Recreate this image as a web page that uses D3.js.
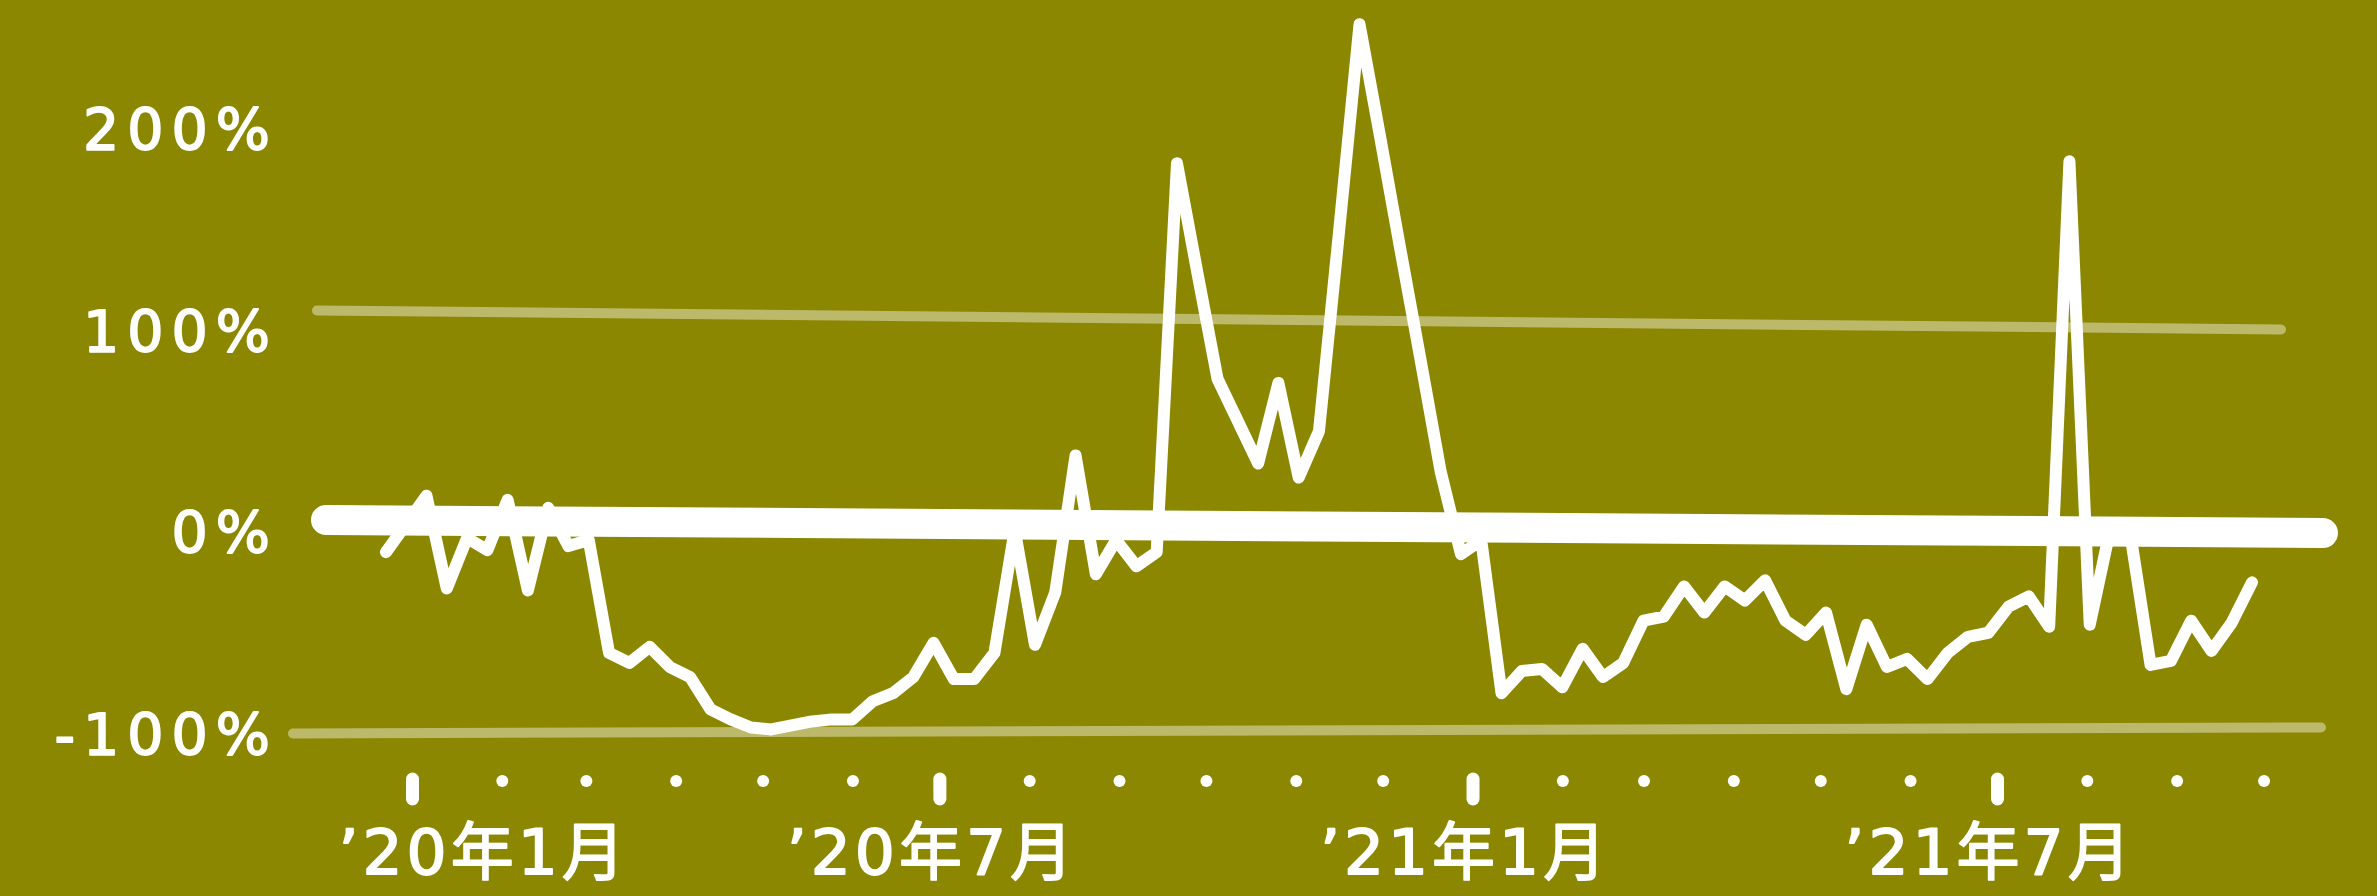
<!DOCTYPE html>
<html><head><meta charset="utf-8">
<script src="https://cdn.jsdelivr.net/npm/d3@7"></script>
<style>
html,body{margin:0;padding:0;background:#8c8700;overflow:hidden}
svg{display:block}
</style></head><body>
<svg id="chart" width="2377" height="896"></svg>
<script>
// ---- data ----
const dates = [
"2019-12-23","2019-12-30",
"2020-01-06","2020-01-13","2020-01-20","2020-01-27","2020-02-03","2020-02-10","2020-02-17","2020-02-24",
"2020-03-02","2020-03-09","2020-03-16","2020-03-23","2020-03-30","2020-04-06","2020-04-13","2020-04-20","2020-04-27",
"2020-05-04","2020-05-11","2020-05-18","2020-05-25","2020-06-01","2020-06-08","2020-06-15","2020-06-22","2020-06-29",
"2020-07-06","2020-07-13","2020-07-20","2020-07-27","2020-08-03","2020-08-10","2020-08-17","2020-08-24","2020-08-31",
"2020-09-07","2020-09-14","2020-09-21","2020-09-28","2020-10-05","2020-10-12","2020-10-19","2020-10-26",
"2020-11-02","2020-11-09","2020-11-16","2020-11-23","2020-11-30","2020-12-07","2020-12-14","2020-12-21","2020-12-28",
"2021-01-04","2021-01-11","2021-01-18","2021-01-25","2021-02-01","2021-02-08","2021-02-15","2021-02-22",
"2021-03-01","2021-03-08","2021-03-15","2021-03-22","2021-03-29","2021-04-05","2021-04-12","2021-04-19","2021-04-26",
"2021-05-03","2021-05-10","2021-05-17","2021-05-24","2021-05-31","2021-06-07","2021-06-14","2021-06-21","2021-06-28",
"2021-07-05","2021-07-12","2021-07-19","2021-07-26","2021-08-02","2021-08-09","2021-08-16","2021-08-23","2021-08-30",
"2021-09-06","2021-09-13","2021-09-20","2021-09-27"
];
const values = [
-10, 4, 18, -28, -3, -9, 16, -29, 12, -7,
-4, -60, -65, -57, -67, -72, -88, -93, -97, -98,
-96, -94, -93, -93, -84, -80, -72, -55, -73, -73,
-60, 1, -56, -30, 38, -21, -4, -17, -10, 183,
129, 76, 55, 34, 74, 27, 50, 150, 252, 197,
141, 86, 30, -11, -4, -80, -69, -68, -77, -58,
-72, -65, -44, -42, -27, -40, -27, -34, -24, -44,
-51, -40, -78, -46, -67, -63, -73, -60, -52, -50,
-37, -32, -47, 184, -46, 1, -1, -66, -64, -44,
-59, -45, -25
];
const yTickValues = [200, 100, 0, -100];
const yTickLabels = ["200%", "100%", "0%", "-100%"];
const gridValues = [100, -100];
const monthTicks = [
"2020-01-01","2020-02-01","2020-03-01","2020-04-01","2020-05-01","2020-06-01",
"2020-07-01","2020-08-01","2020-09-01","2020-10-01","2020-11-01","2020-12-01",
"2021-01-01","2021-02-01","2021-03-01","2021-04-01","2021-05-01","2021-06-01",
"2021-07-01","2021-08-01","2021-09-01","2021-10-01"
];
const majorTicks = ["2020-01-01","2020-07-01","2021-01-01","2021-07-01"];
const majorLabels = ["’20年1月","’20年7月","’21年1月","’21年7月"];

// ---- drawing ----
const parse = d3.utcParse("%Y-%m-%d");
const fmt = d3.utcFormat("%Y-%m-%d");
const series = dates.map((d, i) => ({date: parse(d), v: values[i]}));
const svg = d3.select("#chart");
const W = 2377, H = 896;

const x = d3.scaleUtc()
  .domain([parse("2020-01-01"), parse("2021-07-01")])
  .range([412, 1997]);
const y = d3.scaleLinear().domain([-100, 200]).range([733.5, 129]);

svg.append("rect").attr("width", W).attr("height", H).attr("fill", "#8c8700");

// hand-drawn-looking gridlines (slightly tilted)
const gridStyle = {
  "100": {x0: 317, x1: 2281, dy0: -20, dy1: -1},
  "-100": {x0: 293, x1: 2321, dy0: 0, dy1: -6}
};
svg.append("g").selectAll("line").data(gridValues).join("line")
  .attr("x1", d => gridStyle[d].x0)
  .attr("x2", d => gridStyle[d].x1)
  .attr("y1", d => y(d) + gridStyle[d].dy0)
  .attr("y2", d => y(d) + gridStyle[d].dy1)
  .attr("stroke", "rgba(255,255,255,0.42)")
  .attr("stroke-width", 10)
  .attr("stroke-linecap", "round");

// data line
const line = d3.line().x(d => x(d.date)).y(d => y(d.v)).curve(d3.curveLinear);
svg.append("path").datum(series)
  .attr("d", line)
  .attr("fill", "none")
  .attr("stroke", "#fff")
  .attr("stroke-width", 12)
  .attr("stroke-linejoin", "round")
  .attr("stroke-linecap", "round");

// zero baseline (thick)
svg.append("line")
  .attr("x1", 326).attr("x2", 2323)
  .attr("y1", y(0) - 12).attr("y2", y(0) + 1)
  .attr("stroke", "#fff")
  .attr("stroke-width", 30)
  .attr("stroke-linecap", "round");

// y axis labels
const yAxis = d3.axisLeft(y)
  .tickValues(yTickValues)
  .tickSize(0).tickPadding(0)
  .tickFormat(d => yTickLabels[yTickValues.indexOf(d)]);
const gy = svg.append("g").attr("transform", "translate(278,0)").call(yAxis);
gy.select(".domain").remove();
gy.selectAll("text")
  .attr("fill", "#fff")
  .attr("stroke", "#fff")
  .attr("stroke-width", 1.8)
  .attr("stroke-linejoin", "round")
  .attr("dy", "0.36em")
  .style("font-family", "'DejaVu Sans', sans-serif")
  .style("font-size", "57px")
  .style("letter-spacing", "8px");

// x axis
const majorSet = new Set(majorTicks);
const xAxis = d3.axisBottom(x)
  .tickValues(monthTicks.map(parse))
  .tickSize(0).tickPadding(0)
  .tickFormat(d => {
    const idx = majorTicks.indexOf(fmt(d));
    return idx >= 0 ? majorLabels[idx] : "";
  });
const gx = svg.append("g").call(xAxis);
gx.select(".domain").remove();
gx.selectAll(".tick").each(function(d) {
  const g = d3.select(this);
  if (majorSet.has(fmt(d))) {
    g.append("line").attr("x1", 0).attr("x2", 0).attr("y1", 779).attr("y2", 799)
      .attr("stroke", "#fff").attr("stroke-width", 13).attr("stroke-linecap", "round");
  } else {
    g.append("circle").attr("cx", 0).attr("cy", 781).attr("r", 6).attr("fill", "#fff");
  }
});
gx.selectAll("text")
  .attr("fill", "#fff")
  .attr("stroke", "#fff")
  .attr("stroke-width", 1.8)
  .attr("stroke-linejoin", "round")
  .attr("y", 874).attr("dy", 0)
  .style("font-family", "'DejaVu Sans', 'Noto Sans CJK JP', sans-serif")
  .style("font-size", "63px")
  .style("letter-spacing", "4px")
  .each(function(d) {
    const t = d3.select(this);
    if (!t.text()) return;
    const w = this.getComputedTextLength();
    const cx = x(d);
    let c = cx - 8;
    if (c - w / 2 < 338) c = 338 + w / 2;
    t.attr("x", c - cx);
  });
</script>
</body></html>
